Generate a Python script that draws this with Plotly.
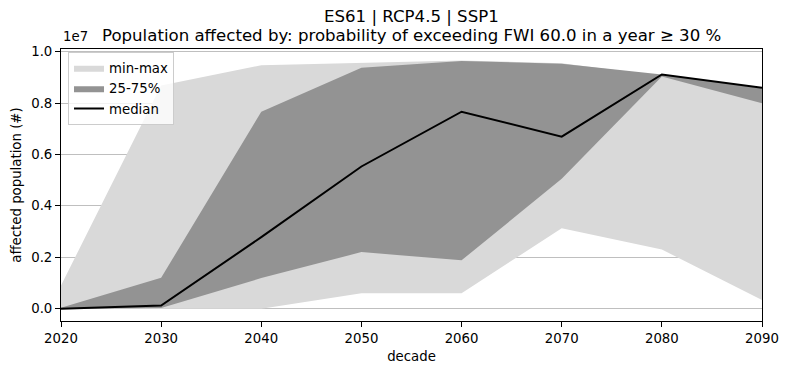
import plotly.graph_objects as go

decades = [2020, 2030, 2040, 2050, 2060, 2070, 2080, 2090]
p_min = [0.0, 0.0, 0.0, 0.06e7, 0.06e7, 0.3125e7, 0.23e7, 0.034e7]
p_max = [0.09e7, 0.868e7, 0.947e7, 0.955e7, 0.965e7, 0.955e7, 0.905e7, 0.86e7]
p25 = [0.0, 0.002e7, 0.119e7, 0.22e7, 0.188e7, 0.505e7, 0.903e7, 0.799e7]
p75 = [0.003e7, 0.12e7, 0.766e7, 0.937e7, 0.963e7, 0.953e7, 0.911e7, 0.857e7]
median = [0.0, 0.012e7, 0.278e7, 0.553e7, 0.766e7, 0.669e7, 0.911e7, 0.859e7]

ytick_vals = [0, 0.2e7, 0.4e7, 0.6e7, 0.8e7, 1.0e7]
ytick_text = ["0.0", "0.2", "0.4", "0.6", "0.8", "1.0"]
xtick_vals = decades

title_line1 = "ES61 | RCP4.5 | SSP1"
title_line2 = "Population affected by: probability of exceeding FWI 60.0 in a year ≥ 30 %"

LIGHT = "#d9d9d9"
DARK = "#939393"
FONT = "DejaVu Sans"
FS = 13.3
TFS = 16.6

fig = go.Figure()
fig.add_trace(go.Scatter(x=decades, y=p_min, mode="lines", line=dict(width=0, color=LIGHT),
                         showlegend=False, hoverinfo="skip"))
fig.add_trace(go.Scatter(x=decades, y=p_max, mode="lines", line=dict(width=0, color=LIGHT),
                         fill="tonexty", fillcolor=LIGHT, name="min-max"))
fig.add_trace(go.Scatter(x=decades, y=p25, mode="lines", line=dict(width=0, color=DARK),
                         showlegend=False, hoverinfo="skip"))
fig.add_trace(go.Scatter(x=decades, y=p75, mode="lines", line=dict(width=0, color=DARK),
                         fill="tonexty", fillcolor=DARK, name="25-75%"))
fig.add_trace(go.Scatter(x=decades, y=median, mode="lines", line=dict(width=2, color="black"),
                         name="median"))

fig.update_layout(
    width=790, height=374,
    margin=dict(l=61, r=28, t=49, b=53, autoexpand=False),
    paper_bgcolor="white", plot_bgcolor="white",
    font=dict(family=FONT, size=FS, color="black"),
    legend=dict(
        x=0.01, y=0.99, xanchor="left", yanchor="top", traceorder="normal",
        bgcolor="rgba(255,255,255,0.8)", bordercolor="#cccccc", borderwidth=1,
        font=dict(family=FONT, size=FS), tracegroupgap=0,
    ),
    xaxis=dict(
        range=[2020, 2090], tickvals=xtick_vals, showgrid=False, zeroline=False,
        showline=True, linecolor="black", linewidth=1, mirror=True,
        ticks="outside", ticklen=5, tickcolor="black", automargin=False,
        title=dict(text="decade", font=dict(family=FONT, size=FS), standoff=6),
        layer="above traces",
    ),
    yaxis=dict(
        range=[-0.0481e7, 1.0101e7], tickvals=ytick_vals, ticktext=ytick_text,
        showgrid=True, gridcolor="rgba(0,0,0,0.25)", gridwidth=1, zeroline=False,
        showline=True, linecolor="black", linewidth=1, mirror=True,
        ticks="outside", ticklen=5, tickcolor="black", automargin=False,
        title=dict(text="affected population (#)", font=dict(family=FONT, size=FS), standoff=6),
        layer="above traces",
    ),
    annotations=[
        dict(text=title_line1, xref="paper", yref="paper", x=0.5, y=1 + (49 - 16.5) / 272,
             xanchor="center", yanchor="middle", showarrow=False,
             font=dict(family=FONT, size=TFS)),
        dict(text=title_line2, xref="paper", yref="paper", x=0.5, y=1 + (49 - 35.5) / 272,
             xanchor="center", yanchor="middle", showarrow=False,
             font=dict(family=FONT, size=TFS)),
        dict(text="1e7", xref="paper", yref="paper", x=0.0, y=1.01,
             xanchor="left", yanchor="bottom", showarrow=False,
             font=dict(family=FONT, size=FS)),
    ],
)

fig.write_html("out.html", config={"displayModeBar": False},
               post_script="document.body.style.margin='0';")
